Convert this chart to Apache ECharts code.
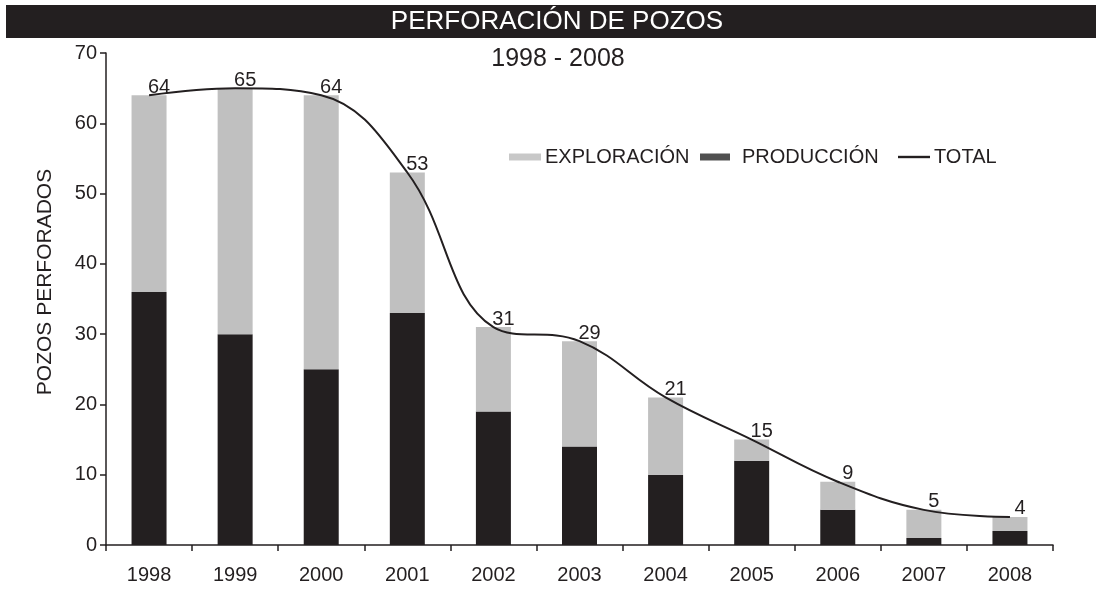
<!DOCTYPE html>
<html><head><meta charset="utf-8">
<script src="https://cdn.jsdelivr.net/npm/echarts@6/dist/echarts.min.js"></script>
<style>html,body{margin:0;padding:0;background:#fff}#c{width:1096px;height:589px}</style>
</head><body><div id="c"></div>
<script>
const years = ['1998','1999','2000','2001','2002','2003','2004','2005','2006','2007','2008'];
const produccion = [36, 30, 25, 33, 19, 14, 10, 12, 5, 1, 2];
const exploracion = [28, 35, 39, 20, 12, 15, 11, 3, 4, 4, 2];
const total = [64, 65, 64, 53, 31, 29, 21, 15, 9, 5, 4];
const yTicks = [0, 10, 20, 30, 40, 50, 60, 70];

const F = '"Liberation Sans", Arial, sans-serif';
const INK = '#231f20';
const legendText = { fontSize: 20, color: INK, fontFamily: F, padding: [0, 0, 0, -1] };
const chart = echarts.init(document.getElementById('c'));
chart.setOption({
  animation: false,
  textStyle: { fontFamily: F },
  graphic: [
    { type: 'rect', shape: { x: 6, y: 5, width: 1090, height: 33 }, style: { fill: INK } },
    { type: 'text', x: 557, y: 22, style: { text: 'PERFORACIÓN DE POZOS', fill: '#fff', font: '26px ' + F, textAlign: 'center', textVerticalAlign: 'middle' } },
    { type: 'text', x: 558, y: 59, style: { text: '1998 - 2008', fill: INK, font: '25px ' + F, textAlign: 'center', textVerticalAlign: 'middle' } },
    { type: 'text', x: 45, y: 282, rotation: Math.PI / 2, style: { text: 'POZOS PERFORADOS', fill: INK, font: '21px ' + F, textAlign: 'center', textVerticalAlign: 'middle' } }
  ],
  legend: [
    { left: 504, top: 142, itemWidth: 32, itemHeight: 7, textStyle: legendText,
      data: [{ name: 'EXPLORACIÓN', icon: 'rect', itemStyle: { color: '#c8c8c8' } }] },
    { left: 695, top: 142, itemWidth: 30, itemHeight: 7, textStyle: Object.assign({}, legendText, { padding: [0, 0, 0, 7] }),
      data: [{ name: 'PRODUCCIÓN', icon: 'rect', itemStyle: { color: '#505050' } }] },
    { left: 893, top: 142, itemWidth: 32, itemHeight: 7, textStyle: legendText,
      data: [{ name: 'TOTAL', icon: 'path://M0,0H32V2.4H0Z', itemStyle: { color: INK } }] }
  ],
  grid: { left: 106, right: 43, top: 53, bottom: 44 },
  xAxis: {
    type: 'category', data: years,
    axisLine: { lineStyle: { color: INK, width: 1.5 } },
    axisTick: { show: true, length: 6, lineStyle: { color: INK, width: 1.5 } },
    axisLabel: { color: INK, fontSize: 20, margin: 20 }
  },
  yAxis: {
    type: 'value', min: 0, max: 70, interval: 10,
    splitLine: { show: false },
    axisLine: { show: true, lineStyle: { color: INK, width: 1.5 } },
    axisTick: { show: true, length: 6, lineStyle: { color: INK, width: 1.5 } },
    axisLabel: { color: INK, fontSize: 20, margin: 9, formatter: v => yTicks.includes(v) ? String(v) : '' }
  },
  series: [
    { name: 'PRODUCCIÓN', type: 'bar', stack: 's', data: produccion, barWidth: 35,
      itemStyle: { color: INK } },
    { name: 'EXPLORACIÓN', type: 'bar', stack: 's', data: exploracion, barWidth: 35,
      itemStyle: { color: '#c0c0c0' } },
    { name: 'TOTAL', type: 'line', data: total, smooth: 0.4, symbol: 'circle', symbolSize: 0.1,
      lineStyle: { color: INK, width: 2 }, itemStyle: { color: INK },
      label: { show: true, position: 'top', offset: [10, 2], distance: 0, fontSize: 20, color: INK } }
  ]
});
</script></body></html>
